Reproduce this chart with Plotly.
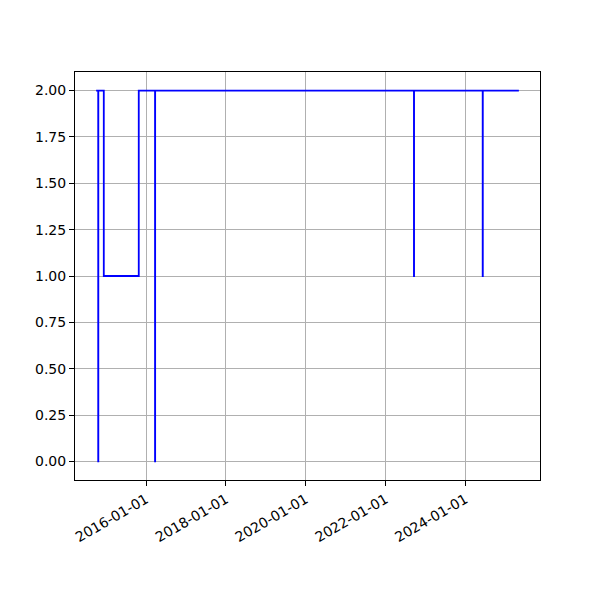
import pandas as pd
import plotly.graph_objects as go

dates = ["2014-10-01", "2014-10-20", "2014-10-21", "2014-12-10", "2015-10-26",
         "2016-03-23", "2016-03-24", "2022-09-17", "2022-09-18", "2024-06-07",
         "2024-06-08", "2025-05-04"]
values = [2, 0, 2, 1, 2, 0, 2, 1, 2, 1, 2, 2]
tick_dates = ["2016-01-01", "2018-01-01", "2020-01-01", "2022-01-01", "2024-01-01"]
y_ticks = [0, 0.25, 0.5, 0.75, 1.0, 1.25, 1.5, 1.75, 2.0]

d = pd.to_datetime(dates)
span = d.max() - d.min()
xr = [d.min() - span * 0.05, d.max() + span * 0.05]

fig = go.Figure()
fig.add_trace(go.Scatter(x=d, y=values, mode="lines", line=dict(color="#0000ff", width=1.8, shape="hv")))

axis_common = dict(showline=True, linecolor="black", linewidth=1, mirror=True,
                   ticks="outside", ticklen=5, tickwidth=1, tickcolor="black",
                   showgrid=True, gridcolor="#b0b0b0", gridwidth=1, zeroline=False,
                   automargin=False,
                   tickfont=dict(family="DejaVu Sans", size=14, color="black"))

fig.update_layout(
    width=600, height=600,
    margin=dict(l=67, r=68, t=64, b=128),
    plot_bgcolor="white", paper_bgcolor="white",
    showlegend=False,
    xaxis=dict(range=xr, tickmode="array", tickvals=pd.to_datetime(tick_dates),
               ticktext=tick_dates, tickangle=-30, **axis_common),
    yaxis=dict(range=[-0.1, 2.1], tickmode="array", tickvals=y_ticks,
               ticktext=[f"{v:.2f}" for v in y_ticks], **axis_common),
)

fig.write_html("out.html")
